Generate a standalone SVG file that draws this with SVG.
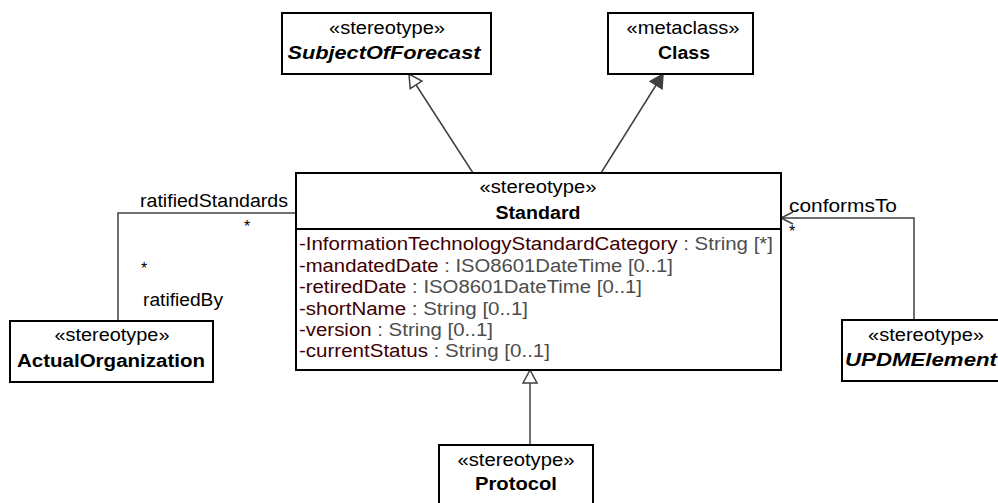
<svg xmlns="http://www.w3.org/2000/svg" width="998" height="503" viewBox="0 0 998 503">
<style>
text{font-family:"Liberation Sans",Arial,sans-serif;font-size:18px;fill:#000}
.c{text-anchor:middle}
.b{font-weight:bold}
.bi{font-weight:bold;font-style:italic}
.box{fill:#fff;stroke:#000;stroke-width:2}
.ln{fill:none;stroke:#404040;stroke-width:1.5}
.an{fill:#400000}
.at{fill:#4d4d4d}
.st{font-size:16px}
</style>
<defs>
<marker id="hollow" markerUnits="userSpaceOnUse" markerWidth="18" markerHeight="18" refX="14" refY="8" orient="auto" viewBox="0 0 18 16">
<path d="M1,1 L14,8 L1,15 Z" fill="#fff" stroke="#404040" stroke-width="1.5"/>
</marker>
<marker id="filled" markerUnits="userSpaceOnUse" markerWidth="18" markerHeight="18" refX="14" refY="8" orient="auto" viewBox="0 0 18 16">
<path d="M1,1 L14,8 L1,15 Z" fill="#404040" stroke="#404040" stroke-width="1.5"/>
</marker>
<marker id="open" markerUnits="userSpaceOnUse" markerWidth="16" markerHeight="16" refX="13" refY="7" orient="auto" viewBox="0 0 16 14">
<path d="M1,1 L13,7 L1,13" fill="none" stroke="#404040" stroke-width="1.5"/>
</marker>
</defs>
<g id="connectors">
<line class="ln" x1="473" y1="173" x2="409" y2="74" marker-end="url(#hollow)"/>
<line class="ln" x1="601" y1="173" x2="663" y2="74" marker-end="url(#filled)"/>
<line class="ln" x1="530" y1="445" x2="530" y2="370" marker-end="url(#hollow)"/>
<polyline class="ln" points="118,321 118,213 296,213"/>
<polyline class="ln" points="914,320 914,218 781,218" marker-end="url(#open)"/>
<text x="288" y="207" text-anchor="end" textLength="148" lengthAdjust="spacingAndGlyphs">ratifiedStandards</text>
<text x="247" y="232" class="c st">*</text>
<text x="144" y="274" class="c st">*</text>
<text x="143" y="306" textLength="80" lengthAdjust="spacingAndGlyphs">ratifiedBy</text>
<text x="789" y="212" textLength="108" lengthAdjust="spacingAndGlyphs">conformsTo</text>
<text x="792" y="237" class="c st">*</text>
</g>
<g id="SubjectOfForecast">
<rect class="box" x="282" y="13" width="209" height="61"/>
<text x="387" y="34" class="c" textLength="116" lengthAdjust="spacingAndGlyphs">«stereotype»</text>
<text x="384" y="59" class="c bi" textLength="193" lengthAdjust="spacingAndGlyphs">SubjectOfForecast</text>
</g>
<g id="Class">
<rect class="box" x="608" y="13" width="145" height="61"/>
<text x="683" y="34" class="c" textLength="113" lengthAdjust="spacingAndGlyphs">«metaclass»</text>
<text x="684" y="59" class="c b" textLength="52" lengthAdjust="spacingAndGlyphs">Class</text>
</g>
<g id="Standard">
<rect class="box" x="296" y="173" width="485" height="197"/>
<line x1="296" y1="229" x2="781" y2="229" stroke="#000" stroke-width="2"/>
<text x="538" y="193" class="c" textLength="117" lengthAdjust="spacingAndGlyphs">«stereotype»</text>
<text x="538" y="219" class="c b" textLength="85" lengthAdjust="spacingAndGlyphs">Standard</text>
<text x="299" y="250" textLength="474" lengthAdjust="spacingAndGlyphs"><tspan class="an">-InformationTechnologyStandardCategory</tspan><tspan class="at"> : String [*]</tspan></text>
<text x="299" y="271.5" textLength="374" lengthAdjust="spacingAndGlyphs"><tspan class="an">-mandatedDate</tspan><tspan class="at"> : ISO8601DateTime [0..1]</tspan></text>
<text x="299" y="293" textLength="343" lengthAdjust="spacingAndGlyphs"><tspan class="an">-retiredDate</tspan><tspan class="at"> : ISO8601DateTime [0..1]</tspan></text>
<text x="299" y="314.5" textLength="229" lengthAdjust="spacingAndGlyphs"><tspan class="an">-shortName</tspan><tspan class="at"> : String [0..1]</tspan></text>
<text x="299" y="336" textLength="194" lengthAdjust="spacingAndGlyphs"><tspan class="an">-version</tspan><tspan class="at"> : String [0..1]</tspan></text>
<text x="299" y="357" textLength="251" lengthAdjust="spacingAndGlyphs"><tspan class="an">-currentStatus</tspan><tspan class="at"> : String [0..1]</tspan></text>
</g>
<g id="ActualOrganization">
<rect class="box" x="10" y="321" width="203" height="61"/>
<text x="112" y="341" class="c" textLength="115" lengthAdjust="spacingAndGlyphs">«stereotype»</text>
<text x="111" y="367" class="c b" textLength="188" lengthAdjust="spacingAndGlyphs">ActualOrganization</text>
</g>
<g id="UPDMElement">
<rect class="box" x="842" y="320" width="170" height="61"/>
<text x="926" y="341" class="c" textLength="116" lengthAdjust="spacingAndGlyphs">«stereotype»</text>
<text x="921" y="366" class="c bi" textLength="152" lengthAdjust="spacingAndGlyphs">UPDMElement</text>
</g>
<g id="Protocol">
<rect class="box" x="439" y="445" width="154" height="61"/>
<text x="516" y="466" class="c" textLength="117" lengthAdjust="spacingAndGlyphs">«stereotype»</text>
<text x="516" y="490" class="c b" textLength="82" lengthAdjust="spacingAndGlyphs">Protocol</text>
</g>
</svg>
